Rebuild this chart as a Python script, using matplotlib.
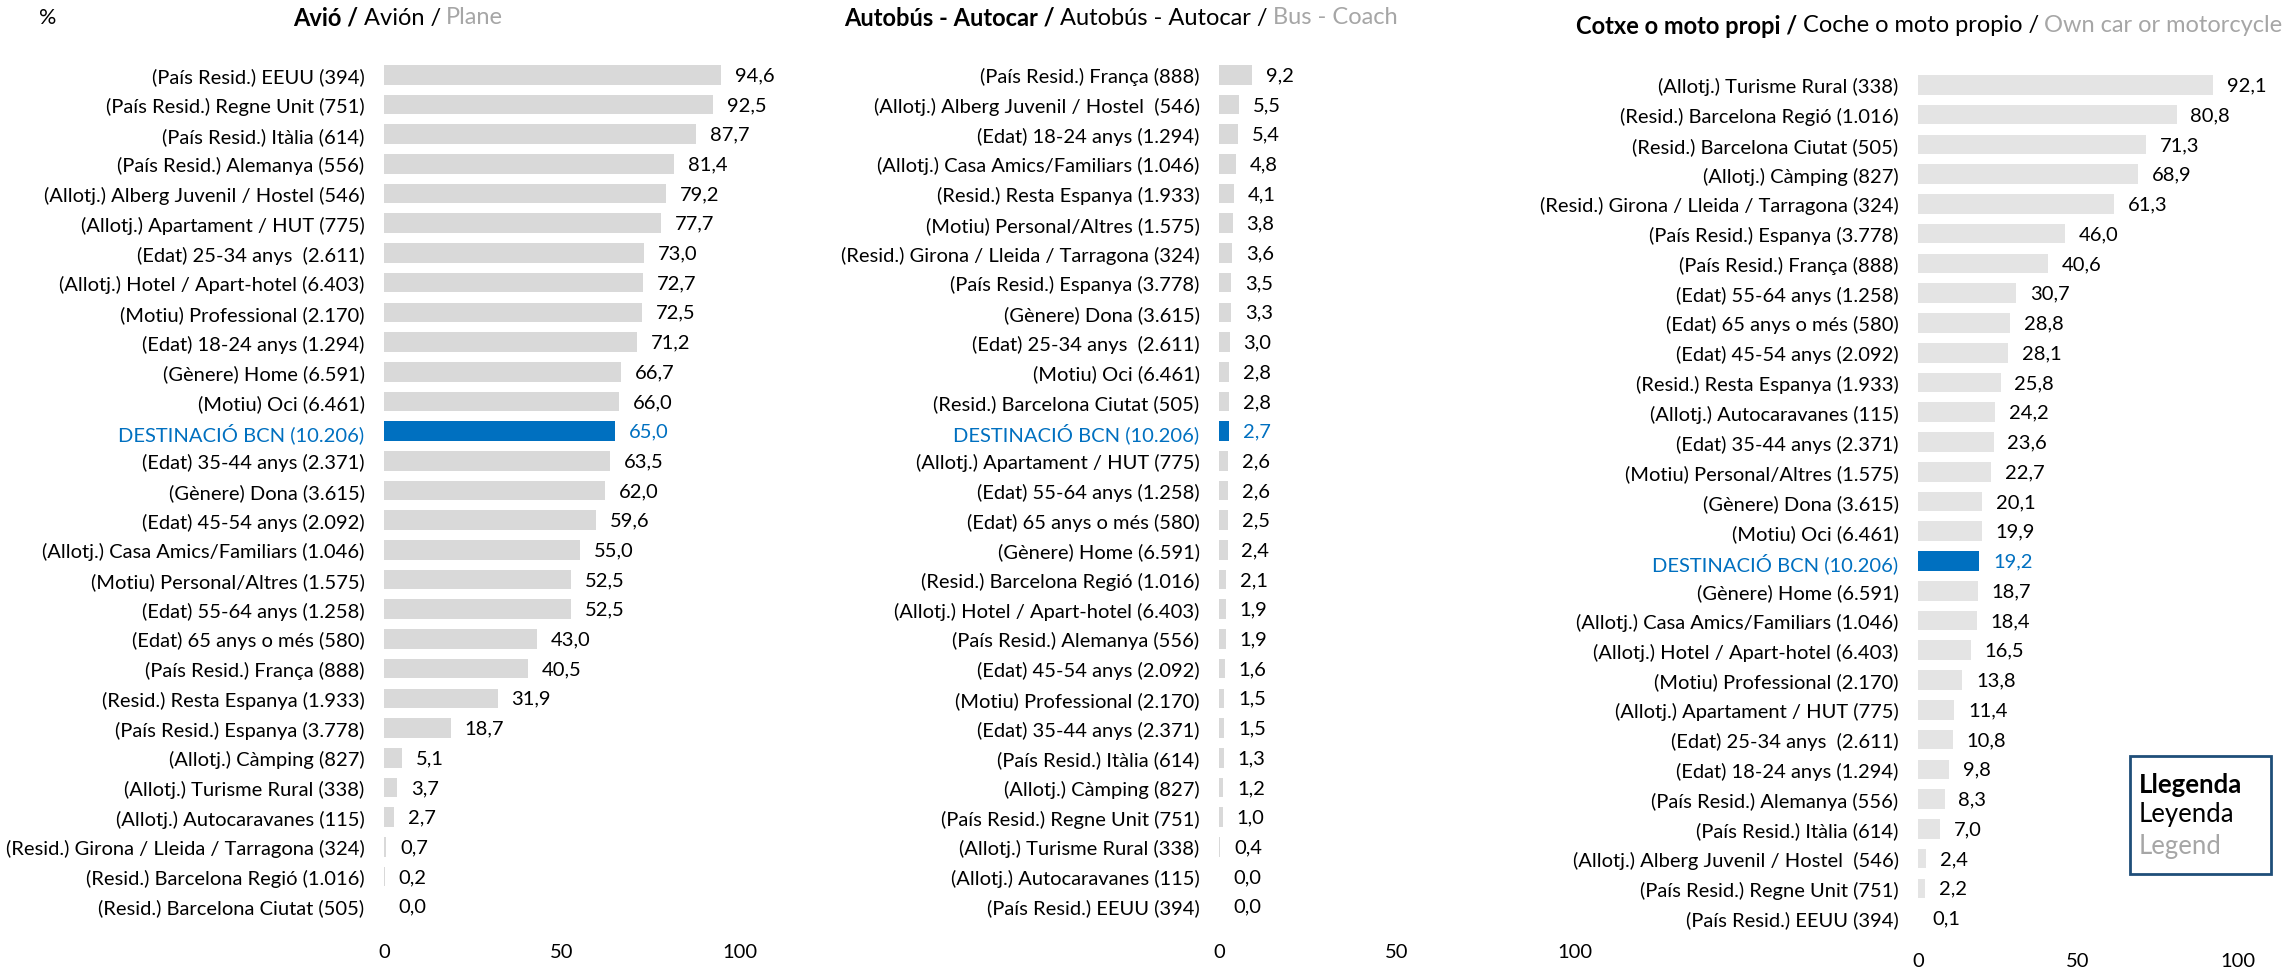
import matplotlib
matplotlib.use("Agg")
import matplotlib.pyplot as plt
from matplotlib.patches import Rectangle

plt.rcParams['font.family'] = ['Lato', 'DejaVu Sans']

W, H = 2294, 970

# ---- data ----
avio_labels = ["(País Resid.) EEUU (394)", "(País Resid.) Regne Unit (751)", "(País Resid.) Itàlia (614)",
               "(País Resid.) Alemanya (556)", "(Allotj.) Alberg Juvenil / Hostel (546)",
               "(Allotj.) Apartament / HUT (775)", "(Edat) 25-34 anys  (2.611)",
               "(Allotj.) Hotel / Apart-hotel (6.403)", "(Motiu) Professional (2.170)",
               "(Edat) 18-24 anys (1.294)", "(Gènere) Home (6.591)", "(Motiu) Oci (6.461)",
               "DESTINACIÓ BCN (10.206)", "(Edat) 35-44 anys (2.371)", "(Gènere) Dona (3.615)",
               "(Edat) 45-54 anys (2.092)", "(Allotj.) Casa Amics/Familiars (1.046)",
               "(Motiu) Personal/Altres (1.575)", "(Edat) 55-64 anys (1.258)", "(Edat) 65 anys o més (580)",
               "(País Resid.) França (888)", "(Resid.) Resta Espanya (1.933)", "(País Resid.) Espanya (3.778)",
               "(Allotj.) Càmping (827)", "(Allotj.) Turisme Rural (338)", "(Allotj.) Autocaravanes (115)",
               "(Resid.) Girona / Lleida / Tarragona (324)", "(Resid.) Barcelona Regió (1.016)",
               "(Resid.) Barcelona Ciutat (505)"]
avio_vals = [94.6, 92.5, 87.7, 81.4, 79.2, 77.7, 73.0, 72.7, 72.5, 71.2, 66.7, 66.0, 65.0, 63.5, 62.0,
             59.6, 55.0, 52.5, 52.5, 43.0, 40.5, 31.9, 18.7, 5.1, 3.7, 2.7, 0.7, 0.2, 0.0]

bus_labels = ["(País Resid.) França (888)", "(Allotj.) Alberg Juvenil / Hostel  (546)",
              "(Edat) 18-24 anys (1.294)", "(Allotj.) Casa Amics/Familiars (1.046)",
              "(Resid.) Resta Espanya (1.933)", "(Motiu) Personal/Altres (1.575)",
              "(Resid.) Girona / Lleida / Tarragona (324)", "(País Resid.) Espanya (3.778)",
              "(Gènere) Dona (3.615)", "(Edat) 25-34 anys  (2.611)", "(Motiu) Oci (6.461)",
              "(Resid.) Barcelona Ciutat (505)", "DESTINACIÓ BCN (10.206)", "(Allotj.) Apartament / HUT (775)",
              "(Edat) 55-64 anys (1.258)", "(Edat) 65 anys o més (580)", "(Gènere) Home (6.591)",
              "(Resid.) Barcelona Regió (1.016)", "(Allotj.) Hotel / Apart-hotel (6.403)",
              "(País Resid.) Alemanya (556)", "(Edat) 45-54 anys (2.092)", "(Motiu) Professional (2.170)",
              "(Edat) 35-44 anys (2.371)", "(País Resid.) Itàlia (614)", "(Allotj.) Càmping (827)",
              "(País Resid.) Regne Unit (751)", "(Allotj.) Turisme Rural (338)",
              "(Allotj.) Autocaravanes (115)", "(País Resid.) EEUU (394)"]
bus_vals = [9.2, 5.5, 5.4, 4.8, 4.1, 3.8, 3.6, 3.5, 3.3, 3.0, 2.8, 2.8, 2.7, 2.6, 2.6, 2.5, 2.4,
            2.1, 1.9, 1.9, 1.6, 1.5, 1.5, 1.3, 1.2, 1.0, 0.4, 0.0, 0.0]

car_labels = ["(Allotj.) Turisme Rural (338)", "(Resid.) Barcelona Regió (1.016)",
              "(Resid.) Barcelona Ciutat (505)", "(Allotj.) Càmping (827)",
              "(Resid.) Girona / Lleida / Tarragona (324)", "(País Resid.) Espanya (3.778)",
              "(País Resid.) França (888)", "(Edat) 55-64 anys (1.258)", "(Edat) 65 anys o més (580)",
              "(Edat) 45-54 anys (2.092)", "(Resid.) Resta Espanya (1.933)", "(Allotj.) Autocaravanes (115)",
              "(Edat) 35-44 anys (2.371)", "(Motiu) Personal/Altres (1.575)", "(Gènere) Dona (3.615)",
              "(Motiu) Oci (6.461)", "DESTINACIÓ BCN (10.206)", "(Gènere) Home (6.591)",
              "(Allotj.) Casa Amics/Familiars (1.046)", "(Allotj.) Hotel / Apart-hotel (6.403)",
              "(Motiu) Professional (2.170)", "(Allotj.) Apartament / HUT (775)", "(Edat) 25-34 anys  (2.611)",
              "(Edat) 18-24 anys (1.294)", "(País Resid.) Alemanya (556)", "(País Resid.) Itàlia (614)",
              "(Allotj.) Alberg Juvenil / Hostel  (546)", "(País Resid.) Regne Unit (751)",
              "(País Resid.) EEUU (394)"]
car_vals = [92.1, 80.8, 71.3, 68.9, 61.3, 46.0, 40.6, 30.7, 28.8, 28.1, 25.8, 24.2, 23.6, 22.7, 20.1,
            19.9, 19.2, 18.7, 18.4, 16.5, 13.8, 11.4, 10.8, 9.8, 8.3, 7.0, 2.4, 2.2, 0.1]

titles = [("Avió /", "Avión /", "Plane"),
          ("Autobús - Autocar /", "Autobús - Autocar /", "Bus - Coach"),
          ("Cotxe o moto propi /", "Coche o moto propio /", "Own car or motorcycle")]
xticks = [0, 50, 100]

BLUE = "#0070C0"
GREY_TXT = "#A6A6A6"
FS = 14.5

fig = plt.figure(figsize=(W / 100, H / 100), dpi=100)


def px_axes(left, top, width, height):
    return fig.add_axes([left / W, 1 - (top + height) / H, width / W, height / H])


def draw_panel(ax, labels, vals, bar_col, xpad):
    n = len(vals)
    ypos = list(range(n))
    cols = [BLUE if l.startswith("DESTINACIÓ") else bar_col for l in labels]
    ax.barh(ypos, vals, height=0.66, color=cols)
    ax.set_ylim(n - 0.5, -0.5)
    ax.set_xlim(0, 100)
    ax.set_yticks(ypos)
    ax.set_yticklabels(labels, fontsize=FS)
    for t, l in zip(ax.get_yticklabels(), labels):
        if l.startswith("DESTINACIÓ"):
            t.set_color(BLUE)
    ax.set_xticks(xticks)
    ax.set_xticklabels([str(x) for x in xticks], fontsize=FS)
    ax.tick_params(length=0, axis='y', pad=14)
    ax.tick_params(length=0, axis='x', pad=xpad)
    for s in ax.spines.values():
        s.set_visible(False)
    for y, v, l in zip(ypos, vals, labels):
        ax.annotate(f"{v:.1f}".replace(".", ","), (v, y), xytext=(10, 0), textcoords="offset points",
                    ha="left", va="center", fontsize=FS,
                    color=BLUE if l.startswith("DESTINACIÓ") else "black", annotation_clip=False)


ax1 = px_axes(384, 61, 356, 861)
ax2 = px_axes(1219, 61, 356, 861)
ax3 = px_axes(1918, 71, 320, 863)
draw_panel(ax1, avio_labels, avio_vals, "#D9D9D9", 16)
draw_panel(ax2, bus_labels, bus_vals, "#D9D9D9", 16)
draw_panel(ax3, car_labels, car_vals, "#E4E4E4", 14)


def title_chain(x, y, parts, fs=17):
    t = fig.text(x / W, 1 - y / H, parts[0], fontsize=fs, fontweight="bold", ha="left", va="center")
    t2 = plt.annotate(parts[1], xy=(1, 0.5), xycoords=t, xytext=(4, 0), textcoords="offset points",
                      fontsize=fs, ha="left", va="center", annotation_clip=False)
    plt.annotate(parts[2], xy=(1, 0.5), xycoords=t2, xytext=(4, 0), textcoords="offset points",
                 fontsize=fs, ha="left", va="center", color=GREY_TXT, annotation_clip=False)


title_chain(293, 18, titles[0])
title_chain(844, 18, titles[1])
title_chain(1576, 26, titles[2])
fig.text(48 / W, 1 - 18 / H, "%", fontsize=FS + 1, ha="center", va="center")

# legend box
fig.patches.append(Rectangle((2130 / W, 1 - 875 / H), 141 / W, 118 / H, transform=fig.transFigure,
                             fill=False, edgecolor="#1F4E79", linewidth=2))
fig.text(2139 / W, 1 - 785 / H, "Llegenda", fontsize=18.5, fontweight="bold", va="center")
fig.text(2139 / W, 1 - 815 / H, "Leyenda", fontsize=18.5, va="center")
fig.text(2139 / W, 1 - 847 / H, "Legend", fontsize=18.5, va="center", color=GREY_TXT)

fig.savefig("out.png", dpi=100)
